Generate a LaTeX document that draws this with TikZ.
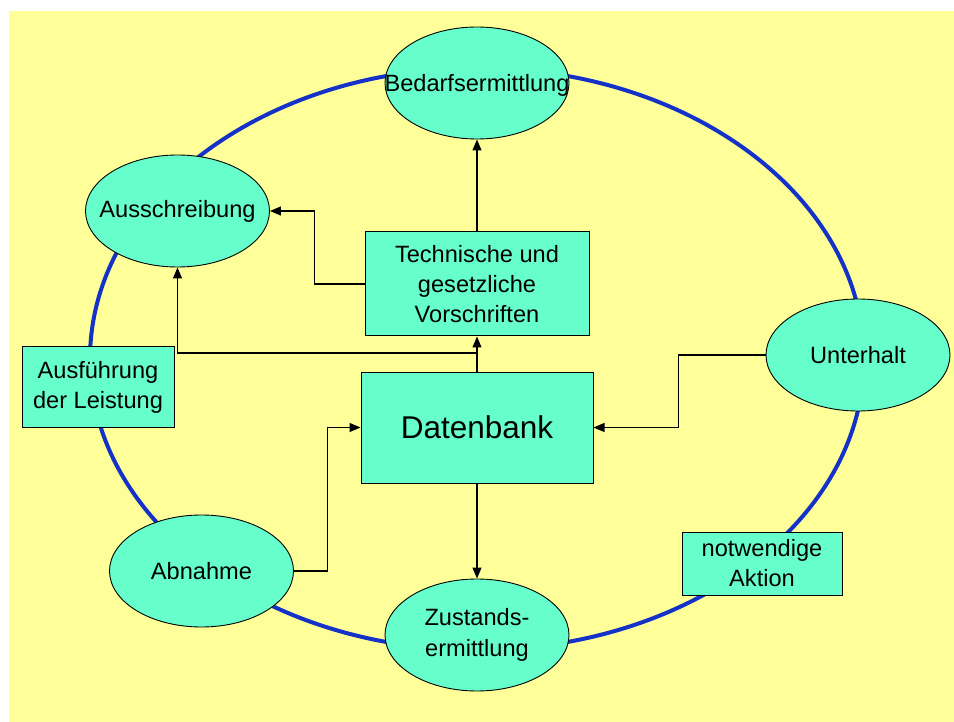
\documentclass[tikz,border=0pt]{standalone}
\usepackage{fontspec}
\setmainfont{Liberation Sans}
\usetikzlibrary{shapes.geometric,arrows.meta}
\definecolor{bgyellow}{RGB}{255,255,153}
\definecolor{boxgreen}{RGB}{102,255,204}
\definecolor{ringblue}{RGB}{20,50,200}
\begin{document}
\begin{tikzpicture}[x=1pt,y=-1pt,
  ell/.style={ellipse,draw=black,line width=0.9pt,fill=boxgreen,inner sep=0pt,minimum width=184pt,minimum height=112pt},
  lbl/.style={align=center,inner sep=0pt,font=\fontsize{23.6}{31}\selectfont},
  boxnode/.style={rectangle,draw=black,line width=1pt,fill=boxgreen,inner sep=0pt,align=center,font=\fontsize{23.6}{30}\selectfont},
  arr/.style={draw=black,line width=1.2pt,-{Triangle[length=11pt,width=9pt]}},
  ring/.style={draw=ringblue,line width=4pt}]
\useasboundingbox (0,0) rectangle (954,722);
\fill[bgyellow] (9,11) rectangle (954,722);
\draw[ring] (477,359) ellipse [x radius=387pt, y radius=291pt];

\node[ell] (bedarf) at (477,83) {};
\node[lbl] (bedarf-t) at ([yshift=-2pt]bedarf.center) {Bedarfsermittlung};
\node[ell] (ausschr) at (177.5,211) {};
\node[lbl] (ausschr-t) at (ausschr.center) {Ausschreibung};
\node[ell] (unt) at (858,355) {};
\node[lbl] (unt-t) at (unt.center) {Unterhalt};
\node[ell] (abn) at (201.5,571) {};
\node[lbl] (abn-t) at (abn.center) {Abnahme};
\node[ell] (zust) at (477,635) {};
\node[lbl] (zust-t) at (zust.center) {Zustands-\\ermittlung};

\node[boxnode,minimum width=224pt,minimum height=104pt] (tech) at (477,284) {Technische und\\gesetzliche\\Vorschriften};
\node[boxnode,minimum width=232pt,minimum height=111pt,font=\fontsize{31.5}{36}\selectfont] (db) at (477,427.5) {Datenbank};
\node[boxnode,minimum width=152pt,minimum height=80pt] (ausf) at (98,387) {Ausführung\\der Leistung};
\node[boxnode,minimum width=160pt,minimum height=63pt] (notw) at (762,563.5) {notwendige\\Aktion};

\coordinate (branch) at (477,353);
\draw[arr] (tech.north) -- (bedarf.south);
\draw[arr] (tech.west) -- ++(-50,0) |- (ausschr.east);
\draw[arr] (db.north) -- (tech.south);
\draw[arr] (branch) -| (ausschr.south);
\draw[arr] (abn.east) -- ++(33.5,0) |- (db.west);
\draw[arr] (unt.west) -- ++(-87,0) |- (db.east);
\draw[arr] (db.south) -- (zust.north);
\end{tikzpicture}
\end{document}
